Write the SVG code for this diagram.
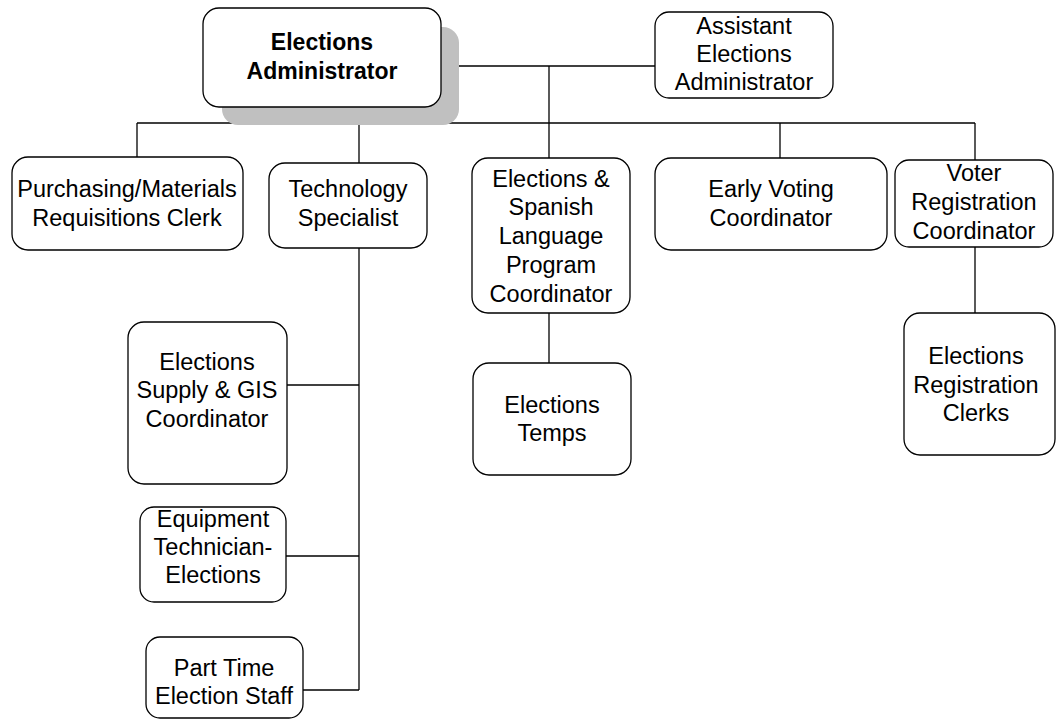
<svg xmlns="http://www.w3.org/2000/svg" width="1057" height="721" viewBox="0 0 1057 721">
  <style>
    .box { fill: #ffffff; stroke: #000000; stroke-width: 1.3; }
    .shadow { fill: #c0c0c0; stroke: none; }
    .lbl { font-family: "Liberation Sans", Arial, sans-serif; font-size: 23.5px; fill: #000000; text-anchor: middle; }
    .bold { font-weight: bold; font-size: 23px; }
    .wire { fill: none; stroke: #000000; stroke-width: 1.3; }
  </style>
  <rect width="1057" height="721" fill="#ffffff"/>

  <!-- reporting lines -->
  <g id="connectors">
    <path class="wire" d="M456,66 H655"/>
    <path class="wire" d="M549,66 V158"/>
    <path class="wire" d="M137,123 H975"/>
    <path class="wire" d="M137,123 V157"/>
    <path class="wire" d="M359,123 V163"/>
    <path class="wire" d="M780,123 V158"/>
    <path class="wire" d="M975,123 V160"/>
    <path class="wire" d="M975,247 V313"/>
    <path class="wire" d="M549,313 V363"/>
    <path class="wire" d="M359,248 V690"/>
    <path class="wire" d="M287,385 H359"/>
    <path class="wire" d="M286,556 H359"/>
    <path class="wire" d="M303,690 H359"/>
  </g>

  <g id="elections-administrator">
    <rect class="shadow" x="222" y="27" width="237" height="98" rx="16"/>
    <rect class="box" x="203" y="8" width="238" height="99" rx="16"/>
    <text class="lbl bold" x="322" y="50">Elections</text>
    <text class="lbl bold" x="322" y="79">Administrator</text>
  </g>

  <g id="assistant-elections-administrator">
    <rect class="box" x="655" y="12" width="178" height="86" rx="14"/>
    <text class="lbl" x="744" y="34">Assistant</text>
    <text class="lbl" x="744" y="62">Elections</text>
    <text class="lbl" x="744" y="90">Administrator</text>
  </g>

  <g id="purchasing-clerk">
    <rect class="box" x="12" y="157" width="231" height="93" rx="16"/>
    <text class="lbl" x="127" y="197">Purchasing/Materials</text>
    <text class="lbl" x="127" y="226">Requisitions Clerk</text>
  </g>

  <g id="technology-specialist">
    <rect class="box" x="269" y="163" width="158" height="85" rx="16"/>
    <text class="lbl" x="348" y="197">Technology</text>
    <text class="lbl" x="348" y="226">Specialist</text>
  </g>

  <g id="spanish-language-coordinator">
    <rect class="box" x="472" y="158" width="158" height="155" rx="16"/>
    <text class="lbl" x="551" y="187">Elections &amp;</text>
    <text class="lbl" x="551" y="215">Spanish</text>
    <text class="lbl" x="551" y="244">Language</text>
    <text class="lbl" x="551" y="273">Program</text>
    <text class="lbl" x="551" y="302">Coordinator</text>
  </g>

  <g id="early-voting-coordinator">
    <rect class="box" x="655" y="158" width="232" height="92" rx="16"/>
    <text class="lbl" x="771" y="197">Early Voting</text>
    <text class="lbl" x="771" y="226">Coordinator</text>
  </g>

  <g id="voter-registration-coordinator">
    <rect class="box" x="895" y="160" width="158" height="87" rx="14"/>
    <text class="lbl" x="974" y="181">Voter</text>
    <text class="lbl" x="974" y="210">Registration</text>
    <text class="lbl" x="974" y="239">Coordinator</text>
  </g>

  <g id="registration-clerks">
    <rect class="box" x="904" y="313" width="151" height="142" rx="16"/>
    <text class="lbl" x="976" y="364">Elections</text>
    <text class="lbl" x="976" y="393">Registration</text>
    <text class="lbl" x="976" y="421">Clerks</text>
  </g>

  <g id="elections-temps">
    <rect class="box" x="473" y="363" width="158" height="112" rx="16"/>
    <text class="lbl" x="552" y="413">Elections</text>
    <text class="lbl" x="552" y="441">Temps</text>
  </g>

  <g id="supply-gis-coordinator">
    <rect class="box" x="128" y="322" width="159" height="162" rx="16"/>
    <text class="lbl" x="207" y="370">Elections</text>
    <text class="lbl" x="207" y="398">Supply &amp; GIS</text>
    <text class="lbl" x="207" y="427">Coordinator</text>
  </g>

  <g id="equipment-technician">
    <rect class="box" x="140" y="507" width="146" height="95" rx="14"/>
    <text class="lbl" x="213" y="527">Equipment</text>
    <text class="lbl" x="213" y="555">Technician-</text>
    <text class="lbl" x="213" y="583">Elections</text>
  </g>

  <g id="part-time-staff">
    <rect class="box" x="146" y="637" width="157" height="81" rx="14"/>
    <text class="lbl" x="224" y="676">Part Time</text>
    <text class="lbl" x="224" y="704">Election Staff</text>
  </g>
</svg>
